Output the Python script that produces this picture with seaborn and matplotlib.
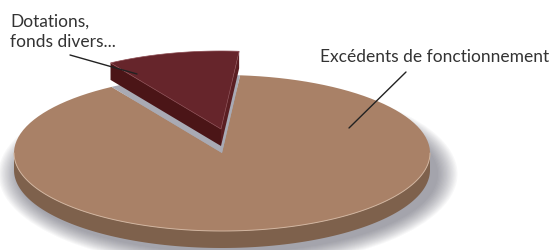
import numpy as np
import matplotlib
matplotlib.use("Agg")
import matplotlib.pyplot as plt
from matplotlib.patches import Polygon, Ellipse
import seaborn as sns

# data
labels = ["Dotations,\nfonds divers...", "Excédents de fonctionnement"]
shares = [10.3, 89.7]
top_colors = ["#66252b", "#a98167"]
side_colors = ["#4b1517", "#7e614c"]
exploded = [True, False]

# 3d pie geometry (pixels)
CX, CY, RX, RY, DEPTH = 222, 153, 208, 78, 17
START = 85
EXPLODE_OFF = (-1, -24)

sns.set_theme(style="white")
plt.rcParams["font.family"] = ["Lato", "DejaVu Sans"]


def ell(theta, z=0.0, off=(0, 0)):
    t = np.radians(theta)
    return CX + RX * np.cos(t) + off[0], CY - RY * np.sin(t) + z + off[1]


def arc(t0, t1, z=0.0, off=(0, 0), n=120):
    ts = np.linspace(t0, t1, n)
    xs, ys = ell(ts, z, off)
    return np.column_stack([xs, ys])


fig = plt.figure(figsize=(5.54, 2.5), dpi=100)
ax = fig.add_axes([0, 0, 1, 1])
ax.set_xlim(0, 554)
ax.set_ylim(250, 0)
ax.axis("off")

# soft shadow under the pie
for i in range(16):
    ax.add_patch(Ellipse((CX + 6, CY + DEPTH + 4), 2 * (RX + 2 + i * 1.3), 2 * (RY + 1 + i * 1.0),
                         facecolor="#4a4a5a", alpha=0.04, lw=0))

bounds = START + 360 * np.cumsum([0] + shares) / sum(shares)

# big (non exploded) slices
for i, (lo, hi) in enumerate(zip(bounds[:-1], bounds[1:])):
    if exploded[i]:
        continue
    # front wall
    for k in (0, 360):
        a0, a1 = max(lo, 180 + k), min(hi, 360 + k)
        if a1 > a0:
            top = arc(a0, a1)
            bot = arc(a1, a0, z=DEPTH)
            ax.add_patch(Polygon(np.vstack([top, bot]), closed=True,
                                 facecolor=side_colors[i], edgecolor="none"))
            ax.plot(top[:, 0], top[:, 1], color="#d2b59f", lw=0.7)
    face = np.vstack([[CX, CY], arc(lo, hi)])
    ax.add_patch(Polygon(face, closed=True, facecolor=top_colors[i], edgecolor="none"))

# exploded slices
for i, (lo, hi) in enumerate(zip(bounds[:-1], bounds[1:])):
    if not exploded[i]:
        continue
    # hole left in the pie
    hole = np.vstack([[CX, CY], arc(lo, hi)])
    ax.add_patch(Polygon(hole, closed=True, facecolor="#a9aab4", edgecolor="none"))
    ox, oy = EXPLODE_OFF
    c_top = (CX + ox, CY + oy)
    c_bot = (CX + ox, CY + oy + DEPTH)
    for ang, col in ((hi, side_colors[i]), (lo, "#5a1e22")):
        p_top = ell(ang, 0, EXPLODE_OFF)
        p_bot = ell(ang, DEPTH, EXPLODE_OFF)
        ax.add_patch(Polygon([c_top, p_top, p_bot, c_bot], closed=True,
                             facecolor=col, edgecolor="none"))
    face = np.vstack([c_top, arc(lo, hi, off=EXPLODE_OFF)])
    ax.add_patch(Polygon(face, closed=True, facecolor=top_colors[i],
                         edgecolor="#8a4a50", lw=0.5))

# labels with leader lines
ax.text(10, 47, labels[0], ha="left", va="baseline", fontsize=12.5,
        color="#333333", linespacing=1.3)
ax.plot([70, 137], [55, 74], color="#222222", lw=1)
ax.text(320, 62, labels[1], ha="left", va="baseline", fontsize=12.5, color="#333333")
ax.plot([406, 349], [72, 128], color="#222222", lw=1)

fig.savefig("out.png", dpi=100)
